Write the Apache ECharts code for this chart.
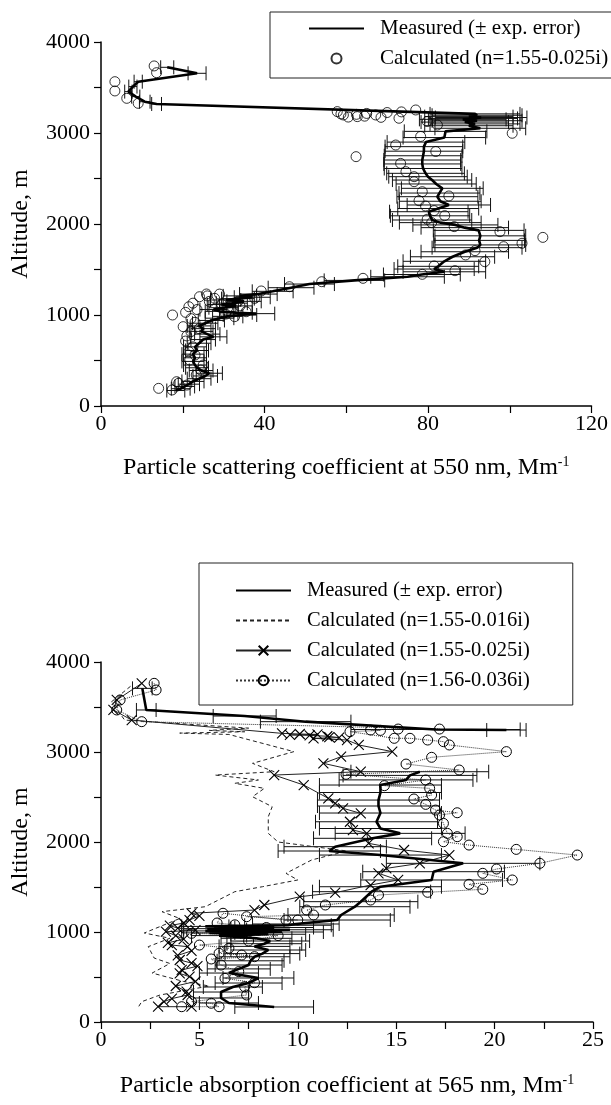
<!DOCTYPE html>
<html>
<head>
<meta charset="utf-8">
<script src="https://cdn.jsdelivr.net/npm/echarts@6/dist/echarts.min.js"></script>
<style>
  html, body { margin: 0; padding: 0; background: #fff; }
  #top { position: absolute; left: 0; top: 0; width: 611px; height: 540px; }
  #bottom { position: absolute; left: 0; top: 540px; width: 611px; height: 565px; }
</style>
</head>
<body>
<div id="top"></div>
<div id="bottom"></div>
<script>
// ---------- Scattering profile (550 nm) ----------
// Measured: altitude (m), coefficient (Mm-1), experimental error (Mm-1)
const scatAlt = [170,190,215,240,270,300,330,360,390,420,450,490,530,570,610,650,690,730,760,790,820,850,880,910,940,965,985,1000,1015,1025,1040,1060,1080,1100,1115,1130,1150,1165,1180,1195,1210,1230,1260,1300,1340,1380,1420,1445,1475,1505,1535,1590,1640,1695,1740,1770,1820,1870,1930,1960,1990,2015,2044,2090,2135,2170,2209,2250,2300,2340,2392,2440,2483,2520,2557,2610,2660,2703,2750,2800,2850,2900,2950,3018,3052,3080,3100,3120,3135,3150,3160,3170,3180,3195,3210,3319,3344,3400,3455,3510,3564,3656,3722];
const scatMeas = [18.3,19.5,20.5,21.5,22.5,24.0,25.5,26.5,24.5,23.5,23.0,22.5,23.0,22.5,23.5,23.0,24.0,25.0,27.5,26.0,24.5,25.0,24.0,25.5,27.0,29.0,31.0,34.0,38.0,33.0,29.0,27.5,30.0,33.0,29.5,32.0,35.0,30.5,33.5,37.0,34.0,38.5,42.0,46.5,51.0,62.0,75.0,78.5,84.0,81.5,82.5,84.0,86.0,89.0,92.0,92.8,92.5,92.8,92.4,89.0,86.7,83.0,81.0,80.5,80.2,82.5,85.1,83.0,82.3,82.8,83.5,82.0,81.0,80.0,79.4,78.8,78.6,78.6,78.8,79.0,79.0,79.5,84.0,84.3,92.8,90.0,91.5,89.0,92.0,88.5,91.0,93.0,90.0,92.0,91.5,13.6,10.7,8.5,6.7,7.8,9.1,23.5,16.2];
const scatErr = [2.2,2.3,2.4,2.6,2.7,2.9,3.0,3.2,2.9,2.8,2.8,2.7,2.8,2.7,2.8,2.8,2.9,3.0,3.3,3.1,2.9,3.0,2.9,3.1,3.2,3.5,3.7,4.1,4.5,4.0,3.5,3.3,3.6,4.0,3.5,3.8,4.2,3.7,4.0,4.4,4.1,4.6,5.0,5.6,6.1,7.4,9.0,9.4,10.1,9.8,9.9,10.1,10.3,10.7,11.0,11.1,11.1,11.1,11.1,10.7,10.4,10.0,9.7,9.7,9.6,9.9,10.2,10.0,9.9,9.9,10.0,9.8,9.7,9.6,9.5,9.5,9.4,9.4,9.5,9.5,9.5,9.5,10.1,10.1,11.1,10.8,11.0,10.7,11.0,10.6,10.9,11.2,10.8,11.0,11.0,1.2,1.3,1.0,0.9,1.0,1.0,2.2,1.6];
// Calculated, n = 1.55-0.025i
const scatCalcAlt = [3737,3663,3564,3462,3381,3326,3253,3235,3232,3225,3215,3210,3205,3198,3198,3185,3180,3175,3172,3162,3127,3088,2997,2962,2868,2797,2740,2666,2575,2520,2465,2355,2308,2256,2198,2147,2092,2052,2015,1971,1916,1853,1788,1751,1707,1660,1586,1539,1487,1447,1403,1366,1311,1264,1231,1230,1210,1201,1183,1183,1150,1150,1130,1120,1100,1091,1080,1060,1036,1029,1010,1000,982,960,920,872,850,817,770,714,650,597,560,505,450,396,341,267,250,230,194,176];
const scatCalc = [13.0,13.6,3.4,3.4,6.3,9.1,77.0,57.8,73.5,70.0,65.0,58.7,62.5,59.3,67.2,64.5,62.7,60.5,68.5,72.9,79.8,82.3,100.6,78.2,72.1,81.9,62.4,73.3,74.6,76.6,76.6,78.6,85.1,77.8,79.4,81.5,84.1,79.8,80.9,86.4,97.6,108.1,103.0,98.5,91.5,89.2,93.9,81.5,86.6,78.6,64.1,54.0,46.1,39.2,25.8,29.0,26.0,24.1,37.6,27.8,26.5,33.5,22.5,29.5,34.0,21.5,31.0,23.5,35.5,20.7,30.5,17.5,32.7,22.0,23.0,20.1,24.0,22.0,21.0,20.7,22.5,21.5,23.0,21.7,25.0,24.4,23.3,18.5,19.0,21.0,14.1,17.4];

// ---------- Absorption profile (565 nm) ----------
// Measured: altitude (m), coefficient (Mm-1), experimental error (Mm-1); null = no data
const absAlt = [167,211,267,333,389,433,489,544,590,633,680,725,760,800,840,870,900,930,960,975,990,1000,1012,1025,1037,1050,1062,1075,1089,1133,1189,1281,1337,1448,1503,1578,1670,1763,1855,1900,1948,2041,2096,2150,2225,2322,2400,2466,2550,2633,2690,2740,2781,null,3244,3250,3337,3400,3467,3707];
const absMeas = [8.8,6.5,6.1,6.1,6.7,7.5,8.0,6.5,7.0,7.5,7.6,7.8,8.2,8.5,7.8,8.3,8.6,7.9,6.0,8.5,5.5,9.2,5.3,9.6,5.4,8.8,5.3,9.5,9.9,12.0,12.2,12.9,13.2,13.75,14.2,16.8,16.9,18.4,14.2,11.6,11.9,13.8,15.2,14.2,14.0,14.2,14.1,14.1,14.2,14.2,15.5,15.7,16.2,null,20.6,17.0,10.4,7.3,2.3,2.1];
const absErr = [2.0,1.5,1.4,1.4,1.5,1.7,1.8,1.5,1.6,1.7,1.7,1.8,1.9,1.9,1.8,1.9,2.0,1.8,1.4,1.9,1.3,2.1,1.2,2.2,1.2,2.0,1.2,2.2,2.2,2.7,2.7,2.8,2.9,3.0,3.1,3.6,3.6,3.9,3.1,2.6,2.6,3.0,3.3,3.1,3.1,3.1,3.1,3.1,3.1,3.1,3.4,3.4,3.5,null,1.0,4.3,2.3,1.6,0.5,0.5];
// Calculated, n = 1.55-0.016i
const calc016Alt = [3730,3559,3355,3265,3240,3225,3210,3195,3004,2874,2781,2744,2689,2652,2596,2503,2392,2281,2096,2000,1900,1800,1652,1578,1503,1448,1281,1226,1150,989,930,837,711,650,544,450,400,300,226,167];
const calc016 = [1.5,0.54,1.2,7.5,5.5,7.3,4.0,6.5,9.8,7.7,8.8,5.8,8.0,6.8,8.3,7.7,8.7,8.5,8.5,9.0,12.5,10.7,9.4,10.0,8.2,6.8,5.3,3.1,4.0,2.2,3.5,2.4,2.7,3.5,2.6,4.2,5.5,3.0,2.07,1.9];
// Calculated, n = 1.55-0.025i
const calc025Alt = [3763,3578,3467,3355,3207,3200,3195,3190,3185,3175,3165,3160,3152,3133,3078,3004,2948,2874,2781,2744,2633,2485,2429,2374,2318,2225,2133,2096,1985,1911,1855,1763,1707,1652,1578,1522,1437,1392,1300,1244,1208,1180,1133,1100,1070,1044,1020,1003,960,920,880,855,837,790,740,689,655,620,578,540,503,450,400,337,300,260,226,170,170];
const calc025 = [2.07,0.8,0.63,1.56,9.2,10.1,11.0,9.6,10.6,11.5,11.6,12.1,10.8,12.5,13.1,14.8,12.2,11.3,13.2,8.8,10.3,11.55,11.9,12.3,13.2,12.65,12.8,13.5,13.6,15.4,17.7,16.2,14.5,14.1,15.1,13.7,11.9,10.1,8.3,7.8,4.6,5.0,4.5,4.2,3.5,3.9,4.8,3.3,3.8,4.2,3.4,3.6,4.4,4.6,3.9,4.0,4.6,4.9,4.1,4.0,4.5,4.8,3.8,4.35,4.4,3.6,3.2,2.9,4.6];
// Calculated, n = 1.56-0.036i
const calc036Alt = [3763,3689,3578,3467,3337,3255,3255,3244,3240,3226,3152,3152,3133,3115,3078,3004,2941,2866,2800,2752,2689,2626,2596,2522,2478,2418,2355,2325,2300,2207,2096,2059,2003,1966,1918,1855,1763,1700,1652,1578,1530,1474,1441,1411,1355,1300,1244,1189,1170,1133,1133,1208,1100,1080,1050,1020,985,960,900,855,820,763,744,726,700,633,560,485,437,392,300,226,208,170,170];
const calc036 = [2.7,2.8,0.97,0.8,2.07,17.2,15.1,13.7,14.2,12.65,14.9,15.7,16.6,17.4,17.7,20.6,16.8,15.5,18.2,12.45,16.5,14.4,16.7,16.8,15.9,16.5,17.0,18.1,17.2,17.4,17.6,18.1,17.4,18.7,21.1,24.2,22.3,20.1,19.4,20.9,18.7,19.4,16.6,14.1,13.7,11.4,10.45,10.8,7.4,10.0,9.4,6.2,5.9,6.8,8.4,8.0,4.6,9.0,7.5,5.0,6.5,6.0,7.15,7.8,5.6,6.1,7.0,6.3,7.8,7.3,7.4,4.6,5.6,6.0,4.1];

const SERIF = "'Liberation Serif','Times New Roman',serif";
const INK = '#000';

function pairs(vals, alts) {
  return vals.map((v, i) => (v === null ? '-' : [v, alts[i]]));
}
function triples(vals, alts, errs) {
  const out = [];
  vals.forEach((v, i) => { if (v !== null) out.push([v, alts[i], errs[i]]); });
  return out;
}

// Horizontal error bars with end caps
function errorBarSeries(data) {
  return {
    type: 'custom',
    silent: true,
    z: 2,
    encode: { x: 0, y: 1 },
    data: data,
    renderItem: function (params, api) {
      const v = api.value(0), a = api.value(1), e = api.value(2);
      const l = api.coord([v - e, a]);
      const r = api.coord([v + e, a]);
      const h = 7;
      const st = () => ({ stroke: '#111', lineWidth: 1 });
      return {
        type: 'group',
        children: [
          { type: 'line', shape: { x1: l[0], y1: l[1], x2: r[0], y2: r[1] }, style: st() },
          { type: 'line', shape: { x1: l[0], y1: l[1] - h, x2: l[0], y2: l[1] + h }, style: st() },
          { type: 'line', shape: { x1: r[0], y1: r[1] - h, x2: r[0], y2: r[1] + h }, style: st() }
        ]
      };
    }
  };
}

function xAxisOpt(max, interval, name, gap) {
  return {
    type: 'value', min: 0, max: max, interval: interval,
    axisLine: { show: true, onZero: false, lineStyle: { color: INK, width: 1.5 } },
    axisTick: { show: true, inside: false, length: 7, lineStyle: { color: INK, width: 1.2 } },
    minorTick: { show: true, splitNumber: 2, length: 7, lineStyle: { color: INK, width: 1.2 } },
    splitLine: { show: false },
    axisLabel: { color: INK, fontFamily: SERIF, fontSize: 22, margin: 7, formatter: v => String(v) },
    name: name,
    nameLocation: 'middle',
    nameGap: gap,
    nameTextStyle: {
      color: INK, fontFamily: SERIF, fontSize: 24,
      rich: {
        sup: { color: INK, fontFamily: SERIF, fontSize: 14, verticalAlign: 'top', padding: [0, 0, 12, 0] }
      }
    }
  };
}
function yAxisOpt() {
  return {
    type: 'value', min: 0, max: 4000, interval: 1000,
    axisLine: { show: true, onZero: false, lineStyle: { color: INK, width: 1.5 } },
    axisTick: { show: true, inside: false, length: 7, lineStyle: { color: INK, width: 1.2 } },
    minorTick: { show: true, splitNumber: 2, length: 7, lineStyle: { color: INK, width: 1.2 } },
    splitLine: { show: false },
    axisLabel: { color: INK, fontFamily: SERIF, fontSize: 22, margin: 11, formatter: v => String(v) },
    name: 'Altitude, m',
    nameLocation: 'middle',
    nameRotate: 90,
    nameGap: 68,
    nameTextStyle: { color: INK, fontFamily: SERIF, fontSize: 24 }
  };
}

function legendOpt(pos, items) {
  return {
    orient: 'vertical',
    left: pos.left, top: pos.top,
    padding: pos.padding,
    itemGap: pos.gap,
    itemWidth: 55, itemHeight: pos.itemHeight,
    borderColor: '#222', borderWidth: 1,
    backgroundColor: '#fff',
    selectedMode: false,
    textStyle: { color: INK, fontFamily: SERIF, fontSize: pos.fontSize, padding: [0, 0, 0, 11] },
    data: items
  };
}

const MEAS = 'Measured (\u00b1 exp. error)';
// line-only legend entries: hide the marker of the icon
const lineOnly = { opacity: 0 };

// ----- top chart -----
const topChart = echarts.init(document.getElementById('top'));
topChart.setOption({
  animation: false,
  backgroundColor: '#fff',
  grid: { left: 101, top: 42, width: 492, height: 364 },
  xAxis: xAxisOpt(120, 40, 'Particle scattering coefficient at 550 nm, Mm{sup|-1}', 49),
  yAxis: yAxisOpt(),
  legend: legendOpt({ left: 270, top: 12, padding: [6, 10, 9, 38], gap: 9, itemHeight: 10, fontSize: 21 },
    [{ name: MEAS, itemStyle: lineOnly }, { name: 'Calculated (n=1.55-0.025i)' }]),
  series: [
    errorBarSeries(triples(scatMeas, scatAlt, scatErr)),
    {
      name: MEAS, type: 'line', z: 4,
      data: pairs(scatMeas, scatAlt),
      symbol: 'none', showSymbol: false,
      lineStyle: { color: INK, width: 2.6 },
      itemStyle: { color: INK }
    },
    {
      name: 'Calculated (n=1.55-0.025i)', type: 'scatter', z: 5,
      data: pairs(scatCalc, scatCalcAlt),
      symbol: 'circle', symbolSize: 10,
      itemStyle: { color: 'rgba(255,255,255,0)', borderColor: INK, borderWidth: 1 }
    }
  ]
});

// ----- bottom chart -----
const botChart = echarts.init(document.getElementById('bottom'));
const XMARK = 'path://M0,0L10,10M10,0L0,10';
botChart.setOption({
  animation: false,
  backgroundColor: '#fff',
  grid: { left: 101, top: 122, width: 492, height: 360 },
  xAxis: xAxisOpt(25, 5, 'Particle absorption coefficient at 565 nm, Mm{sup|-1}', 51),
  yAxis: yAxisOpt(),
  legend: legendOpt({ left: 199, top: 23, padding: [17, 43, 14, 36], gap: 9, itemHeight: 12, fontSize: 20.5 },
    [{ name: MEAS, itemStyle: lineOnly },
     { name: 'Calculated (n=1.55-0.016i)', itemStyle: lineOnly },
     { name: 'Calculated (n=1.55-0.025i)' },
     { name: 'Calculated (n=1.56-0.036i)' }]),
  series: [
    errorBarSeries(triples(absMeas, absAlt, absErr)),
    {
      name: MEAS, type: 'line', z: 6,
      data: pairs(absMeas, absAlt),
      symbol: 'none', showSymbol: false, connectNulls: false,
      lineStyle: { color: INK, width: 2.6 },
      itemStyle: { color: INK }
    },
    {
      name: 'Calculated (n=1.55-0.016i)', type: 'line', z: 3,
      data: pairs(calc016, calc016Alt),
      symbol: 'none', showSymbol: false,
      lineStyle: { color: '#222', width: 1, type: [4, 3] },
      itemStyle: { color: '#222' }
    },
    {
      name: 'Calculated (n=1.55-0.025i)', type: 'line', z: 4,
      data: pairs(calc025, calc025Alt),
      symbol: XMARK, symbolSize: 10, showSymbol: true,
      lineStyle: { color: '#222', width: 1 },
      itemStyle: { color: INK, borderColor: INK, borderWidth: 1.1 }
    },
    {
      name: 'Calculated (n=1.56-0.036i)', type: 'line', z: 5,
      data: pairs(calc036, calc036Alt),
      symbol: 'circle', symbolSize: 10, showSymbol: true,
      lineStyle: { color: '#333', width: 1, type: 'dotted' },
      itemStyle: { color: 'rgba(255,255,255,0)', borderColor: INK, borderWidth: 1 }
    }
  ]
});
</script>
</body>
</html>
